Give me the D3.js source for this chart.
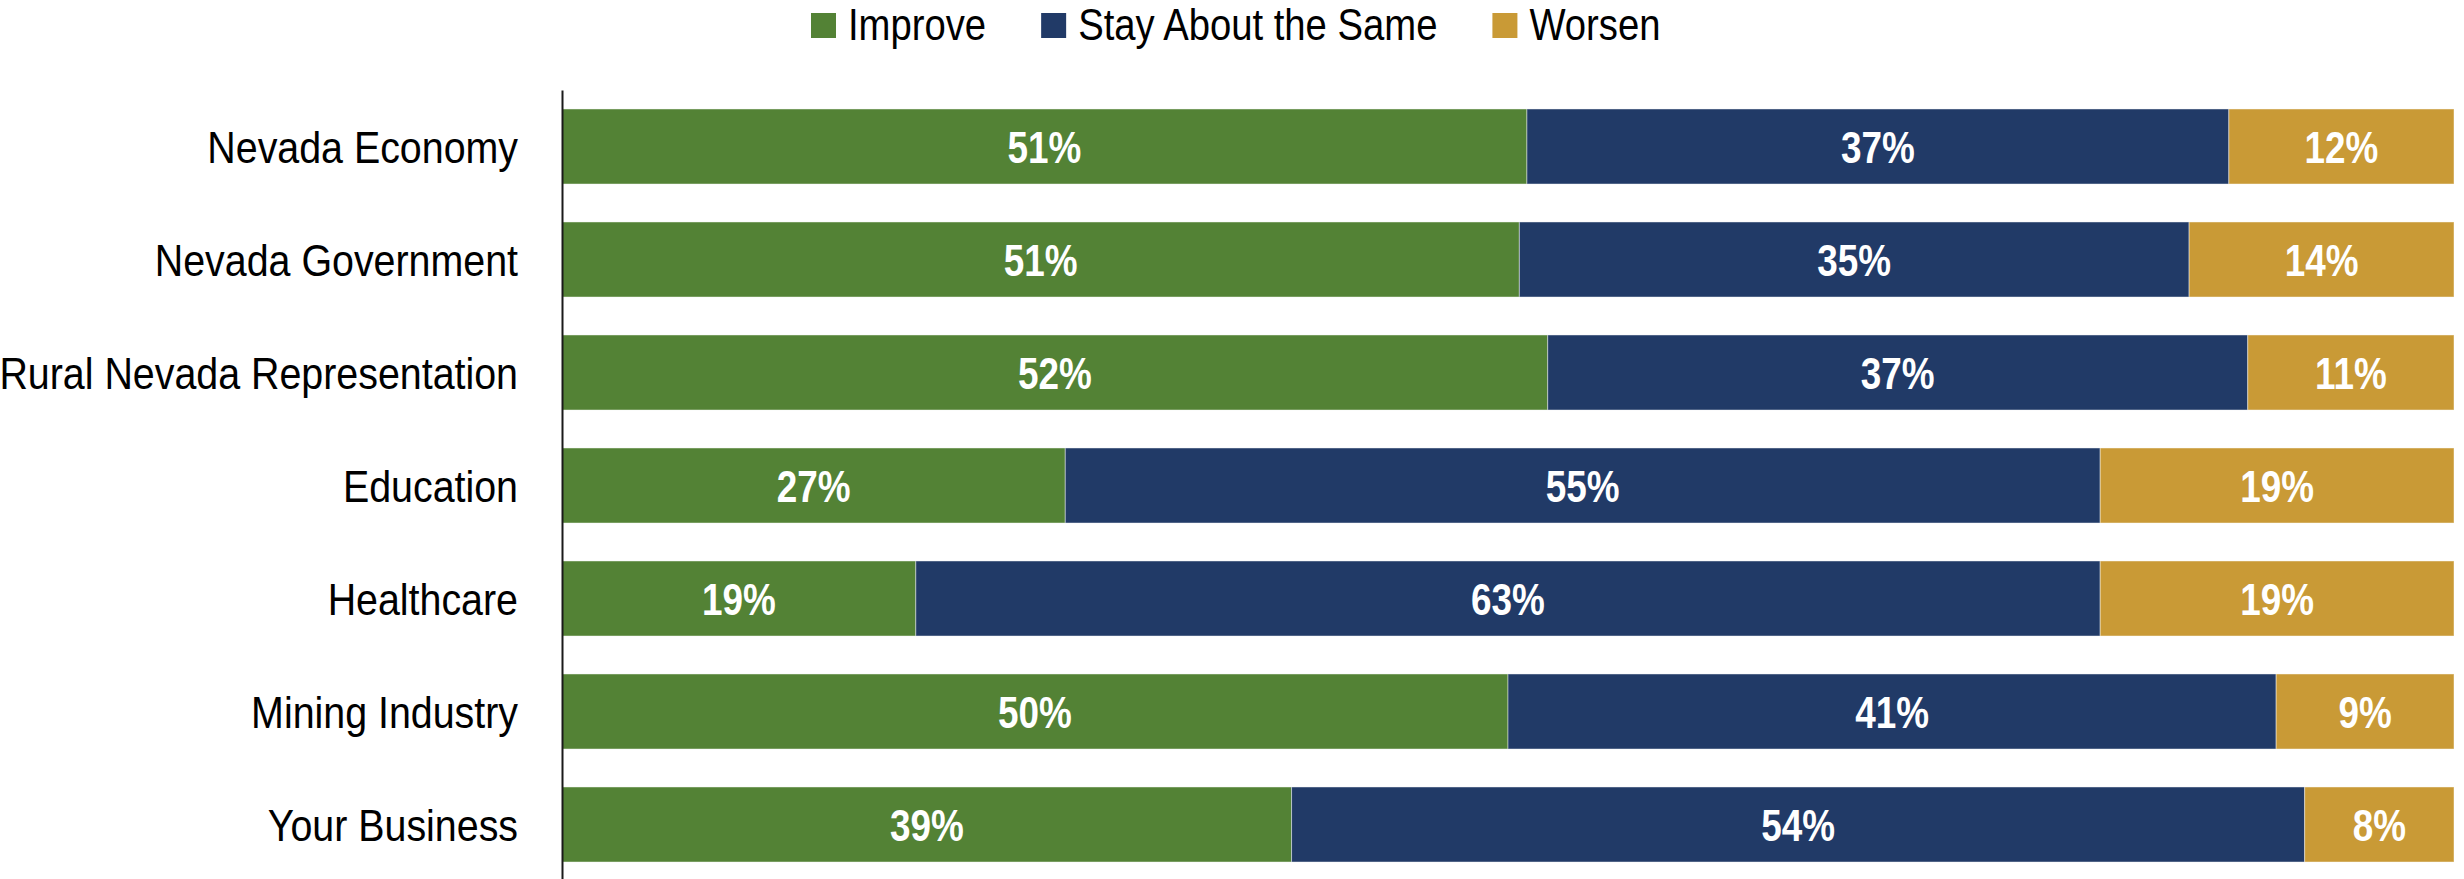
<!DOCTYPE html>
<html>
<head>
<meta charset="utf-8">
<script src="https://cdn.jsdelivr.net/npm/d3@7"></script>
<style>
  html, body { margin: 0; padding: 0; background: #fff; }
  svg { display: block; }
  text { font-family: "Liberation Sans", Arial, sans-serif; }
</style>
</head>
<body>
<svg id="chart" width="2464" height="879"></svg>
<script>
const categories = ["Nevada Economy", "Nevada Government", "Rural Nevada Representation", "Education", "Healthcare", "Mining Industry", "Your Business"];
const seriesNames = ["Improve", "Stay About the Same", "Worsen"];
const improve = [51.0, 50.6, 52.1, 26.6, 18.7, 50.0, 38.6];
const staySame = [37.1, 35.4, 37.0, 54.7, 62.6, 40.6, 53.6];
const worsen = [11.9, 14.0, 10.9, 18.7, 18.7, 9.4, 7.9];
const colors = ["#538235", "#213A67", "#C99A36"];

const svg = d3.select("#chart");
const FS = 45;
const SX_BAR = 0.82;      // narrow-font emulation for value labels
const SX_CAT = 0.875;     // category labels
const SX_LEG = 0.85;      // legend labels
const CAP = FS * 0.716 / 2;

const rows = categories.map((c, i) => {
  const vals = [improve[i], staySame[i], worsen[i]];
  const tot = d3.sum(vals);
  const obj = { cat: c };
  seriesNames.forEach((s, j) => { obj[s] = vals[j] / tot * 100; obj[s + "_raw"] = vals[j]; });
  return obj;
});

const layers = d3.stack().keys(seriesNames)(rows);

const x = d3.scaleLinear().domain([0, 100]).range([562, 2454]);
const y = d3.scaleBand().domain(categories).range([90, 881]).paddingInner(0.336).paddingOuter(0.168);

const g = svg.append("g");
layers.forEach((layer, j) => {
  const lg = g.append("g");
  lg.selectAll("rect").data(layer).enter().append("rect")
    .attr("x", d => x(d[0]))
    .attr("y", d => y(d.data.cat))
    .attr("width", d => x(d[1]) - x(d[0]))
    .attr("height", y.bandwidth())
    .attr("fill", colors[j])
    .attr("stroke", "rgba(255,255,255,0.45)")
    .attr("stroke-width", 1);
  lg.selectAll("text").data(layer).enter().append("text")
    .attr("transform", d => `translate(${(x(d[0]) + x(d[1])) / 2},${y(d.data.cat) + y.bandwidth() / 2 + CAP}) scale(${SX_BAR},1)`)
    .attr("text-anchor", "middle")
    .attr("fill", "#fff")
    .attr("font-weight", "bold")
    .attr("font-size", FS)
    .text(d => Math.round(d.data[seriesNames[j] + "_raw"]) + "%");
});

// Category axis
const axis = d3.axisLeft(y).tickSize(0).tickPadding(44);
const ag = svg.append("g").attr("transform", `translate(${x(0)},0)`).call(axis);
ag.select(".domain").attr("stroke", "#1a1a1a").attr("stroke-width", 2);
ag.selectAll(".tick text")
  .attr("font-size", FS)
  .attr("fill", "#000")
  .attr("dy", null)
  .attr("x", 0)
  .attr("y", 0)
  .attr("transform", `translate(-44,${CAP}) scale(${SX_CAT},1)`)
  .style("font-family", '"Liberation Sans", Arial, sans-serif');

// Legend
const legend = svg.append("g");
let lx = 811;
seriesNames.forEach((s, j) => {
  legend.append("rect").attr("x", lx).attr("y", 13).attr("width", 25).attr("height", 25).attr("fill", colors[j]);
  const t = legend.append("text")
    .attr("transform", `translate(${lx + 37},40) scale(${SX_LEG},1)`)
    .attr("font-size", FS).attr("fill", "#000").text(s);
  const w = t.node().getComputedTextLength() * SX_LEG;
  lx = lx + 37 + w + 55;
});
</script>
</body>
</html>
